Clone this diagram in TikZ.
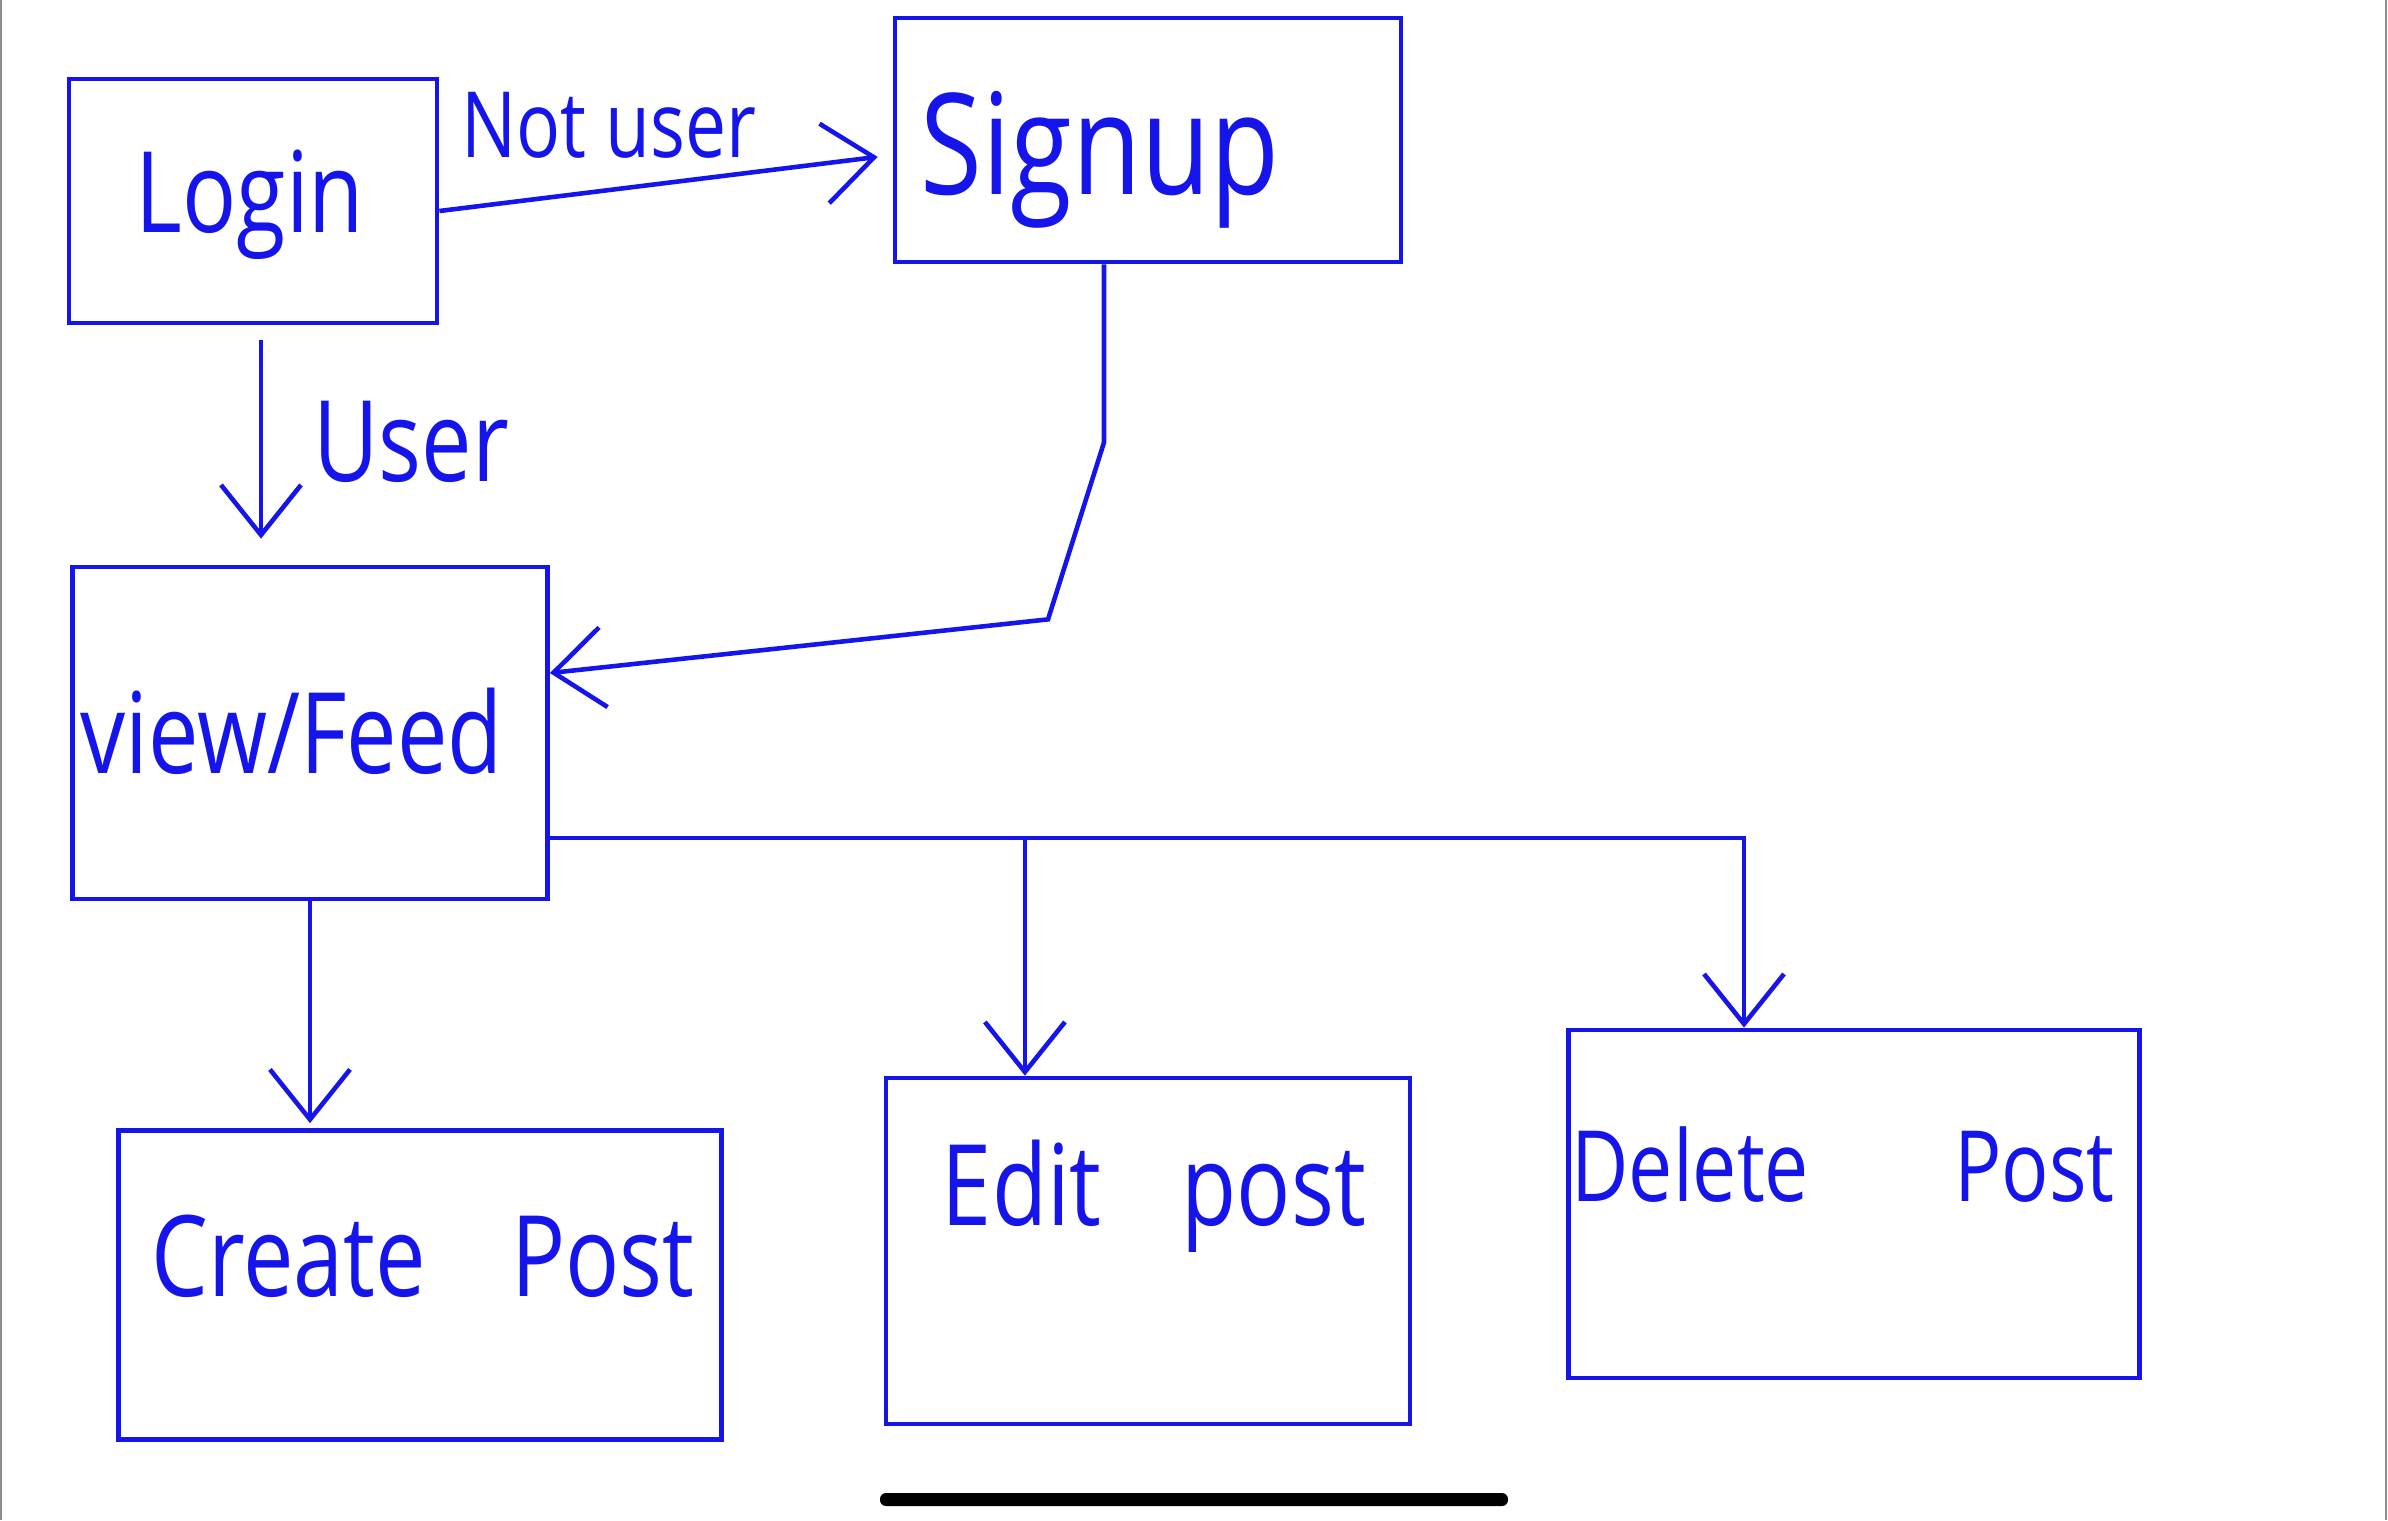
\documentclass[tikz,border=0pt]{standalone}
\usepackage{fontspec}
\setmainfont{Open Sans}[FakeStretch=0.8]
\usetikzlibrary{arrows.meta,calc}
\definecolor{ink}{RGB}{20,20,235}
\definecolor{edge}{RGB}{140,140,140}
\tikzset{
  box/.style={draw=ink, line width=1.3pt, rectangle, inner sep=0pt},
  lbl/.style={text=ink, inner sep=0pt, font=\fontsize{32}{38}\selectfont},
  arr/.style={draw=ink, line width=1.3pt, -{Straight Barb[length=5mm,width=8mm]}},
  link/.style={draw=ink, line width=1.3pt}
}
\begin{document}
\begin{tikzpicture}[x=0.01cm,y=-0.01cm]
\useasboundingbox (0,0) rectangle (2388,1520);
\fill[white] (0,0) rectangle (2388,1520);
% screen edges
\draw[edge, line width=0.6pt] (1,0) -- (1,1520);
\draw[edge, line width=0.6pt] (2386,0) -- (2386,1520);

% boxes
\node[box, minimum width=3.68cm, minimum height=2.44cm] (login) at (253,201) {};
\node[box, minimum width=5.06cm, minimum height=2.44cm] (signup) at (1148,140) {};
\node[box, minimum width=4.75cm, minimum height=3.32cm] (feed) at (310,733) {};
\node[box, minimum width=6.03cm, minimum height=3.09cm] (create) at (420,1285) {};
\node[box, minimum width=5.24cm, minimum height=3.46cm] (edit) at (1148,1251) {};
\node[box, minimum width=5.71cm, minimum height=3.48cm] (delete) at (1854,1204) {};

% box texts
\node[lbl] (loginT) at (250,205) {Login};
\node[lbl, font=\fontsize{40}{46}\selectfont] (signupT) at (1100,160) {Signup};
\node[lbl] (feedT) at (292,731) {view/Feed};
\node[lbl] (createT) at (423,1256) {Create\hspace{0.85cm}Post};
\node[lbl] (editT) at (1154,1196) {Edit\hspace{0.8cm}post};
\node[lbl, font=\fontsize{28}{34}\selectfont] (deleteT) at (1843,1165) {Delete\hspace{1.45cm}Post};

% connectors
\draw[arr, shorten >=0.15cm] ($(login.east)+(0,10)$) -- ($(signup.west)+(0,15)$);
\node[lbl, font=\fontsize{26}{32}\selectfont] (notuserT) at (609,125) {Not user};

\draw[arr, shorten <=0.15cm, shorten >=0.26cm] ($(login.south)+(8,0)$) -- ($(login.south |- feed.north)+(8,0)$);
\node[lbl] (userT) at (411,442) {User};

\draw[arr] ($(signup.south)+(-44,0)$) -- ++(0,178) -- ++(-56,177) -- ($(feed.east)+(0,-60)$);

\draw[arr, shorten >=0.05cm] (feed.south) -- (feed.south |- create.north);

\coordinate (split) at ($(feed.east)+(475,105)$);
\draw[link] ($(feed.east)+(0,105)$) -- (split);
\draw[arr] (split) -- (split |- edit.north);
\draw[arr] (split) -| ($(delete.north)+(-110,0)$);

% home indicator
\fill[black, rounded corners=0.06cm] (880,1493) rectangle (1508,1506);
\end{tikzpicture}
\end{document}
